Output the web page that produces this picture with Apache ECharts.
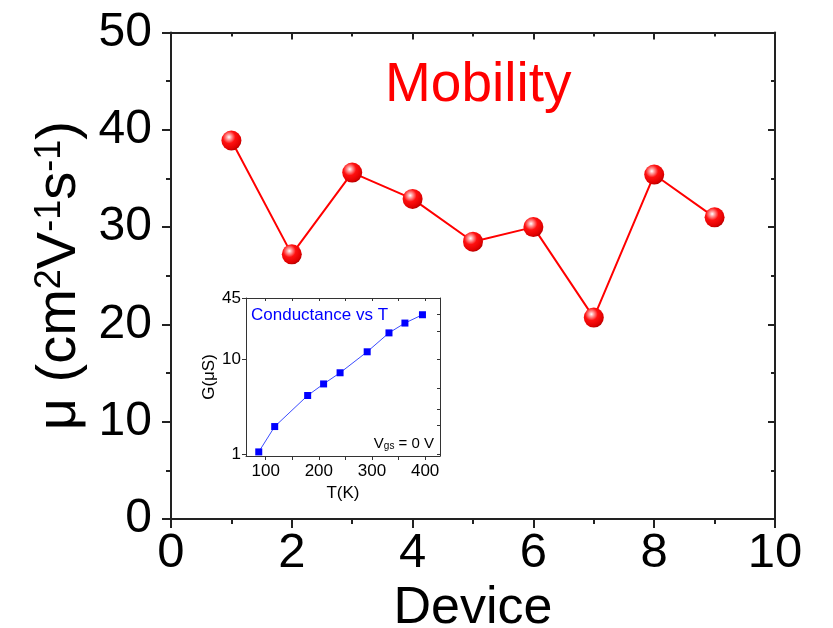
<!DOCTYPE html>
<html>
<head>
<meta charset="utf-8">
<script src="https://cdn.jsdelivr.net/npm/echarts@6/dist/echarts.min.js"></script>
<style>
html,body{margin:0;padding:0;background:#fff;}
#chart{width:833px;height:628px;}
</style>
</head>
<body>
<div id="chart"></div>
<script>
// Main chart data
const devices = [1, 2, 3, 4, 5, 6, 7, 8, 9];
const mobility = [38.9, 27.2, 35.6, 32.9, 28.5, 30.0, 20.7, 35.4, 31.0];
// Inset data
const temps = [87, 117, 179, 209, 240, 291, 332, 362, 395];
const conductance = [1.05, 1.95, 4.16, 5.52, 7.25, 12.1, 19.2, 24.4, 29.9];
// Tick labels
const insetXTicks = [100, 150, 200, 250, 300, 350, 400];
const insetXLabels = [100, 200, 300, 400];
const insetYLabels = [1, 10, 45];
const insetYTicks = [1, 2, 3, 5, 10, 20, 30, 45];

const FONT = 'Liberation Sans, Arial, sans-serif';
const chart = echarts.init(document.getElementById('chart'), null, {renderer: 'canvas'});

const ballColor = {
  type: 'radial', x: 0.38, y: 0.33, r: 0.7,
  colorStops: [
    {offset: 0, color: '#ffffff'},
    {offset: 0.18, color: '#ff9a9a'},
    {offset: 0.45, color: '#ff1010'},
    {offset: 0.85, color: '#e00000'},
    {offset: 1, color: '#b00000'}
  ]
};

function mainLine() { return {show: true, onZero: false, lineStyle: {color: '#222', width: 2}}; }
function insetLine() { return {show: true, onZero: false, lineStyle: {color: '#333', width: 1}}; }

const option = {
  backgroundColor: '#fff',
  animation: false,
  grid: [
    {left: 171, right: 58, top: 32.5, bottom: 109, show: false, containLabel: false, outerBoundsMode: 'none'},
    {left: 246, right: 393, top: 298, bottom: 172, show: true, backgroundColor: '#fff', borderWidth: 0, containLabel: false, outerBoundsMode: 'none'}
  ],
  xAxis: [
    {
      gridIndex: 0, type: 'value', min: 0, max: 10, interval: 2, position: 'bottom',
      axisLine: mainLine(),
      axisTick: {show: true, inside: false, length: 9, lineStyle: {color: '#222', width: 2}},
      minorTick: {show: true, splitNumber: 2, length: 5, lineStyle: {color: '#222', width: 2}},
      splitLine: {show: false},
      axisLabel: {fontSize: 49, color: '#000', fontFamily: FONT, margin: 10},
      name: 'Device', nameLocation: 'middle', nameGap: 59,
      nameTextStyle: {fontSize: 52, color: '#000', fontFamily: FONT}
    },
    {
      gridIndex: 0, type: 'value', min: 0, max: 10, interval: 2, position: 'top',
      axisLine: mainLine(),
      axisTick: {show: true, inside: true, length: 7, lineStyle: {color: '#222', width: 2}},
      minorTick: {show: true, splitNumber: 2, length: 4, lineStyle: {color: '#222', width: 2}},
      splitLine: {show: false},
      axisLabel: {show: false}
    },
    {
      gridIndex: 1, type: 'value', min: 63, max: 428, position: 'bottom',
      axisLine: insetLine(),
      axisTick: {show: true, inside: false, length: 4, customValues: insetXTicks, lineStyle: {color: '#333', width: 1}},
      splitLine: {show: false},
      axisLabel: {fontSize: 17, color: '#000', fontFamily: FONT, margin: 7, customValues: insetXLabels},
      name: 'T(K)', nameLocation: 'middle', nameGap: 29,
      nameTextStyle: {fontSize: 17, color: '#000', fontFamily: FONT}
    },
    {
      gridIndex: 1, type: 'value', min: 63, max: 428, position: 'top',
      axisLine: insetLine(),
      axisTick: {show: true, inside: true, length: 3, customValues: insetXTicks, lineStyle: {color: '#333', width: 1}},
      splitLine: {show: false},
      axisLabel: {show: false}
    }
  ],
  yAxis: [
    {
      gridIndex: 0, type: 'value', min: 0, max: 50, interval: 10, position: 'left',
      axisLine: mainLine(),
      axisTick: {show: true, inside: false, length: 9, lineStyle: {color: '#222', width: 2}},
      minorTick: {show: true, splitNumber: 2, length: 5, lineStyle: {color: '#222', width: 2}},
      splitLine: {show: false},
      axisLabel: {fontSize: 48, color: '#000', fontFamily: FONT, margin: 19},
      name: '{a|μ (cm}{s|2}{a|V}{s|-1}{a|s}{s|-1}{a|)}',
      nameLocation: 'middle', nameGap: 70, nameRotate: 90,
      nameTextStyle: {
        color: '#000', fontFamily: FONT, fontSize: 56,
        rich: {
          a: {fontSize: 56, fontFamily: FONT, color: '#000'},
          s: {fontSize: 36, fontFamily: FONT, color: '#000', verticalAlign: 'top', padding: [0, 0, 20, 0]}
        }
      }
    },
    {
      gridIndex: 0, type: 'value', min: 0, max: 50, interval: 10, position: 'right',
      axisLine: mainLine(),
      axisTick: {show: true, inside: true, length: 7, lineStyle: {color: '#222', width: 2}},
      minorTick: {show: true, splitNumber: 2, length: 4, lineStyle: {color: '#222', width: 2}},
      splitLine: {show: false},
      axisLabel: {show: false}
    },
    {
      gridIndex: 1, type: 'log', logBase: 10, min: 0.95, max: 45, position: 'left',
      axisLine: insetLine(),
      axisTick: {show: true, inside: false, length: 4, customValues: insetYLabels, lineStyle: {color: '#333', width: 1}},
      splitLine: {show: false},
      axisLabel: {fontSize: 17, color: '#000', fontFamily: FONT, margin: 5, customValues: insetYLabels},
      name: 'G(μS)', nameLocation: 'middle', nameGap: 28, nameRotate: 90,
      nameTextStyle: {fontSize: 17, color: '#000', fontFamily: FONT}
    },
    {
      gridIndex: 1, type: 'log', logBase: 10, min: 0.95, max: 45, position: 'right',
      axisLine: insetLine(),
      axisTick: {show: true, inside: true, length: 3, customValues: insetYTicks, lineStyle: {color: '#333', width: 1}},
      splitLine: {show: false},
      axisLabel: {show: false}
    }
  ],
  graphic: [
    {
      type: 'text', left: 385, top: 58, z: 10,
      style: {text: 'Mobility', fill: '#ff0000', font: '55px ' + FONT}
    },
    {
      type: 'text', left: 251, top: 307, z: 10,
      style: {text: 'Conductance vs T', fill: '#0000ff', font: '17px ' + FONT}
    },
    {
      type: 'text', right: 399, top: 436, z: 10,
      style: {
        text: '{v|V}{g|gs}{v| = 0 V}',
        rich: {
          v: {fontSize: 15, fontFamily: FONT, color: '#000'},
          g: {fontSize: 10, fontFamily: FONT, color: '#000', verticalAlign: 'bottom', padding: [6, 0, 0, 0]}
        }
      }
    }
  ],
  series: [
    {
      type: 'line', xAxisIndex: 0, yAxisIndex: 0,
      data: devices.map((d, i) => [d, mobility[i]]),
      symbol: 'circle', symbolSize: 20,
      lineStyle: {color: '#ff0000', width: 2},
      itemStyle: {color: ballColor, borderWidth: 0},
      z: 5
    },
    {
      type: 'line', xAxisIndex: 2, yAxisIndex: 2,
      data: temps.map((t, i) => [t, conductance[i]]),
      symbol: 'rect', symbolSize: 7,
      lineStyle: {color: '#3b4cff', width: 1},
      itemStyle: {color: '#0000ff', borderWidth: 0},
      z: 5
    }
  ]
};
chart.setOption(option);
</script>
</body>
</html>
